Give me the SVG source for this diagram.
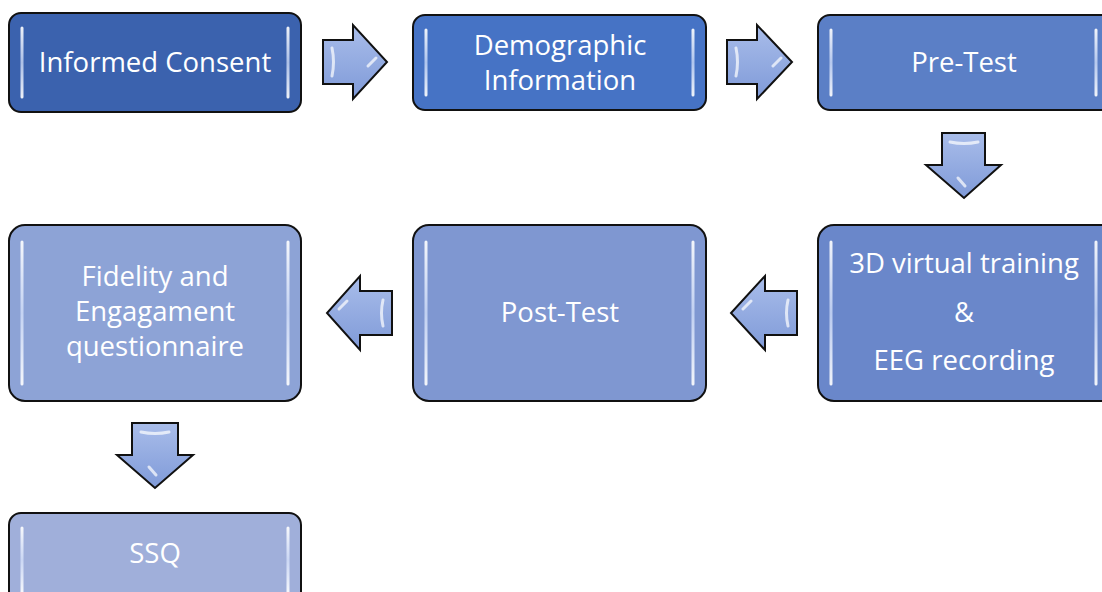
<svg xmlns="http://www.w3.org/2000/svg" width="1102" height="592" viewBox="0 0 1102 592">
<defs>
<linearGradient id="arr" x1="0" y1="0" x2="0" y2="1">
<stop offset="0" stop-color="#A9BDEA"/>
<stop offset="1" stop-color="#7F9AD8"/>
</linearGradient>
<linearGradient id="bar" x1="0" y1="0" x2="0" y2="1">
<stop offset="0" stop-color="#FFFFFF" stop-opacity="0.9"/>
<stop offset="0.5" stop-color="#DDE8FF" stop-opacity="0.7"/>
<stop offset="1" stop-color="#FFFFFF" stop-opacity="0.9"/>
</linearGradient>
</defs>
<style>
.box{stroke:#111;stroke-width:2}
.hl{stroke:url(#bar);stroke-width:3;stroke-linecap:round;fill:none}
.t{font-family:"Open Sans","Liberation Sans",sans-serif;font-size:27.5px;fill:#fff;text-anchor:middle}
.arrow{fill:url(#arr);stroke:#111;stroke-width:2;stroke-linejoin:miter}
.ahl{stroke:#fff;stroke-opacity:0.7;stroke-width:3;fill:none;stroke-linecap:round}
</style>
<g id="n1">
<rect class="box" x="9" y="13" width="292" height="99" rx="12" fill="#3B62AE"/>
<path class="hl" d="M22 28 V97 M288 28 V97"/>
<text class="t" x="155" y="72">Informed Consent</text>
</g>
<g id="n2">
<rect class="box" x="413" y="15" width="293" height="95" rx="12" fill="#4673C5"/>
<path class="hl" d="M426 30 V95 M693 30 V95"/>
<text class="t" x="560" y="55">Demographic</text>
<text class="t" x="560" y="90">Information</text>
</g>
<g id="n3">
<rect class="box" x="818" y="15" width="300" height="95" rx="12" fill="#5B7FC6"/>
<path class="hl" d="M831 30 V95 M1096 30 V95"/>
<text class="t" x="964" y="72">Pre-Test</text>
</g>
<g id="n4">
<rect class="box" x="818" y="225" width="300" height="176" rx="16" fill="#6A87CA"/>
<path class="hl" d="M831 242 V384 M1096 242 V384"/>
<text class="t" x="964" y="273">3D virtual training</text>
<text class="t" x="964" y="322">&amp;</text>
<text class="t" x="964" y="370">EEG recording</text>
</g>
<g id="n5">
<rect class="box" x="413" y="225" width="293" height="176" rx="16" fill="#7F97D1"/>
<path class="hl" d="M426 242 V384 M693 242 V384"/>
<text class="t" x="560" y="322">Post-Test</text>
</g>
<g id="n6">
<rect class="box" x="9" y="225" width="292" height="176" rx="16" fill="#8DA3D6"/>
<path class="hl" d="M22 242 V384 M288 242 V384"/>
<text class="t" x="155" y="286">Fidelity and</text>
<text class="t" x="155" y="321">Engagament</text>
<text class="t" x="155" y="356">questionnaire</text>
</g>
<g id="n7">
<rect class="box" x="9" y="513" width="292" height="100" rx="12" fill="#A0AFDA"/>
<path class="hl" d="M22 528 V592 M288 528 V592"/>
<text class="t" x="155" y="563">SSQ</text>
</g>
<g id="connectors">
<g>
<path class="arrow" d="M323 40 H353 V25 L387 62 L353 99 V84 H323 Z"/>
<path class="ahl" d="M332 48 Q335 62 332 76 M376 58 L368 66"/>
</g>
<g>
<path class="arrow" d="M727 40 H757 V25 L792 62 L757 99 V84 H727 Z"/>
<path class="ahl" d="M736 48 Q739 62 736 76 M781 58 L773 66"/>
</g>
<g>
<path class="arrow" d="M942 133 H985 V165 H1001 L964 198 L926 165 H942 Z"/>
<path class="ahl" d="M950 142 Q964 145 978 142 M958 178 L965 186"/>
</g>
<g>
<path class="arrow" d="M797 291 H765 V276 L731 313 L765 350 V335 H797 Z"/>
<path class="ahl" d="M788 300 Q785 313 788 326 M743 309 L751 301"/>
</g>
<g>
<path class="arrow" d="M392 291 H360 V276 L327 313 L360 350 V335 H392 Z"/>
<path class="ahl" d="M383 300 Q380 313 383 326 M339 309 L347 301"/>
</g>
<g>
<path class="arrow" d="M132 423 H178 V455 H193 L155 488 L117 455 H132 Z"/>
<path class="ahl" d="M141 432 Q155 435 169 432 M149 467 L156 475"/>
</g>
</g>
</svg>
